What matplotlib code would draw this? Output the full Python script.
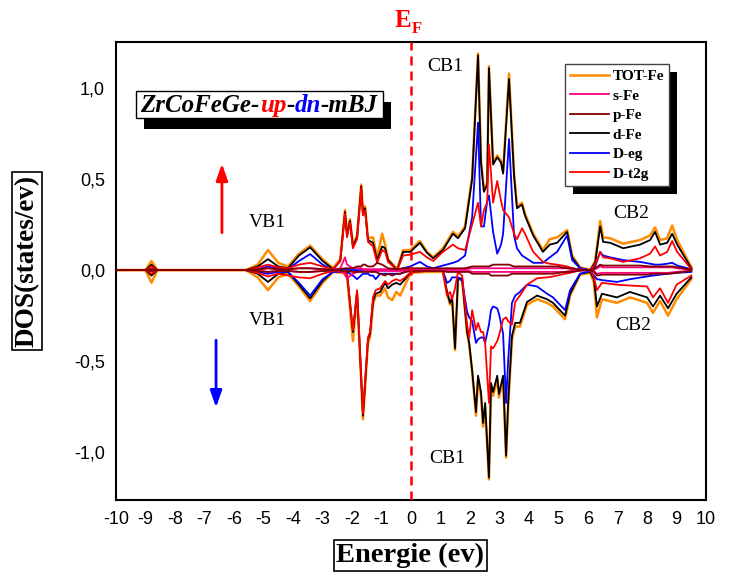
import matplotlib
matplotlib.use('Agg')
import matplotlib.pyplot as plt
from matplotlib.patches import Rectangle
from matplotlib.transforms import Bbox
from matplotlib.ticker import FuncFormatter

plt.rcParams['axes.unicode_minus'] = False

# ---------------- DATA ---------------- #
# spin up
e_up = [-10.0, -9.0, -8.8, -8.6, -5.6, -5.2, -4.85, -4.5, -4.17, -3.8, -3.42, -3.0,
        -2.64, -2.4, -2.24, -2.17, -2.07, -1.97, -1.83, -1.69, -1.63, -1.56, -1.46,
        -1.29, -1.15, -0.98, -0.88, -0.78, -0.47, -0.27, -0.03, 0.3, 0.54, 0.75,
        1.08, 1.42, 1.59, 1.83, 2.07, 2.27, 2.37, 2.47, 2.58, 2.64, 2.78, 2.92,
        3.05, 3.12, 3.32, 3.49, 3.59, 3.76, 3.86, 4.14, 4.47, 4.7, 4.95, 5.29,
        5.46, 5.73, 6.07, 6.24, 6.41, 6.51, 6.75, 7.19, 7.76, 8.1, 8.27, 8.44,
        8.68, 8.85, 9.02, 9.5]
tot_up = [0, 0, 0.05, 0, 0, 0.03, 0.11, 0.04, 0.02, 0.09, 0.135, 0.06,
          0.01, 0.06, 0.33, 0.2, 0.28, 0.14, 0.19, 0.47, 0.32, 0.35, 0.175,
          0.18, 0.07, 0.2, 0.14, 0.06, 0.005, 0.11, 0.11, 0.16, 0.1, 0.07,
          0.12, 0.21, 0.185, 0.24, 0.51, 1.19, 0.6, 0.44, 0.48, 1.12, 0.59, 0.63,
          0.6, 0.54, 1.08, 0.53, 0.35, 0.37, 0.31, 0.2, 0.11, 0.17, 0.18, 0.22,
          0.08, 0.015, 0.0, 0.05, 0.27, 0.18, 0.175, 0.145, 0.165, 0.19, 0.235, 0.165,
          0.175, 0.245, 0.165, 0.015]
s_up = [0, 0, 0.003, 0, 0, 0.003, 0.01, 0.005, 0.004, 0.01, 0.01, 0.005,
        0.002, 0.01, 0.07, 0.03, 0.02, 0.01, 0.01, 0.01, 0.005, 0.005, 0.005,
        0.005, 0.005, 0.005, 0.005, 0.003, 0.002, 0.005, 0.005, 0.005, 0.005, 0.005,
        0.005, 0.005, 0.005, 0.005, 0.01, 0.01, 0.01, 0.01, 0.01, 0.01, 0.01, 0.01,
        0.01, 0.01, 0.01, 0.01, 0.01, 0.01, 0.01, 0.01, 0.01, 0.01, 0.01, 0.01,
        0.005, 0.003, 0.0, 0.005, 0.02, 0.015, 0.015, 0.015, 0.015, 0.015, 0.015, 0.015,
        0.015, 0.015, 0.01, 0.002]
p_up = [0, 0, 0.005, 0, 0, 0.005, 0.01, 0.005, 0.005, 0.01, 0.01, 0.005,
        0.002, 0.005, 0.01, 0.01, 0.01, 0.01, 0.02, 0.02, 0.03, 0.03, 0.02,
        0.02, 0.04, 0.03, 0.02, 0.01, 0.005, 0.01, 0.01, 0.01, 0.01, 0.01,
        0.01, 0.01, 0.01, 0.01, 0.02, 0.02, 0.02, 0.02, 0.02, 0.02, 0.03, 0.03,
        0.03, 0.03, 0.03, 0.02, 0.02, 0.02, 0.02, 0.02, 0.02, 0.02, 0.02, 0.01,
        0.01, 0.003, 0.0, 0.01, 0.03, 0.025, 0.025, 0.025, 0.025, 0.02, 0.02, 0.02,
        0.02, 0.02, 0.015, 0.003]
d_up = [0, 0, 0.03, 0, 0, 0.02, 0.06, 0.02, 0.01, 0.08, 0.125, 0.05,
        0.005, 0.05, 0.32, 0.19, 0.27, 0.13, 0.18, 0.46, 0.31, 0.34, 0.165,
        0.15, 0.055, 0.13, 0.12, 0.055, 0.0, 0.1, 0.1, 0.15, 0.095, 0.065,
        0.11, 0.2, 0.175, 0.23, 0.5, 1.18, 0.59, 0.43, 0.47, 1.11, 0.58, 0.62,
        0.59, 0.53, 1.05, 0.52, 0.34, 0.36, 0.3, 0.19, 0.1, 0.14, 0.15, 0.21,
        0.07, 0.01, 0.0, 0.04, 0.24, 0.155, 0.15, 0.12, 0.14, 0.165, 0.21, 0.14,
        0.15, 0.2, 0.14, 0.01]
eg_up = [0, 0, 0.005, 0, 0, 0.005, 0.02, 0.01, 0.005, 0.05, 0.088, 0.03,
         0.0, 0.0, 0.005, 0.005, 0.0, 0.0, 0.0, 0.0, 0.0, 0.0, 0.0,
         0.0, 0.0, 0.0, 0.0, 0.0, 0.0, 0.01, 0.02, 0.045, 0.02, 0.01,
         0.025, 0.04, 0.05, 0.08, 0.29, 0.81, 0.24, 0.24, 0.38, 0.41, 0.21, 0.09,
         0.14, 0.2, 0.72, 0.19, 0.12, 0.08, 0.07, 0.04, 0.04, 0.07, 0.1, 0.19,
         0.055, 0.01, 0.0, 0.02, 0.1, 0.08, 0.07, 0.055, 0.045, 0.035, 0.03, 0.03,
         0.035, 0.04, 0.025, 0.005]
t2g_up = [0, 0, 0.02, 0, 0, 0.015, 0.03, 0.015, 0.01, 0.03, 0.04, 0.02,
          0.005, 0.05, 0.31, 0.18, 0.26, 0.12, 0.17, 0.45, 0.3, 0.33, 0.155,
          0.13, 0.04, 0.11, 0.1, 0.045, 0.0, 0.08, 0.085, 0.1, 0.07, 0.05,
          0.1, 0.14, 0.12, 0.11, 0.25, 0.37, 0.24, 0.33, 0.37, 0.69, 0.37, 0.49,
          0.38, 0.33, 0.29, 0.2, 0.17, 0.23, 0.2, 0.1, 0.045, 0.035, 0.03, 0.02,
          0.01, 0.002, 0.0, 0.03, 0.1, 0.07, 0.065, 0.045, 0.065, 0.09, 0.13, 0.08,
          0.1, 0.16, 0.1, 0.005]

# spin down
e_dn = [-10.0, -9.0, -8.8, -8.6, -5.6, -5.2, -4.85, -4.5, -4.17, -3.8, -3.42, -3.0,
        -2.64, -2.3, -2.17, -1.97, -1.83, -1.63, -1.46, -1.39, -1.29, -1.2, -1.05,
        -0.88, -0.78, -0.64, -0.5, -0.37, -0.2, 0.0, 0.5, 1.08, 1.22, 1.32, 1.39,
        1.49, 1.59, 1.73, 1.9, 1.97, 2.07, 2.2, 2.27, 2.37, 2.44, 2.51, 2.64,
        2.71, 2.78, 2.92, 2.98, 3.12, 3.22, 3.29, 3.42, 3.53, 3.69, 3.93, 4.27,
        4.61, 4.81, 5.22, 5.39, 5.73, 6.07, 6.2, 6.3, 6.47, 6.98, 7.42, 8.0,
        8.2, 8.44, 8.71, 9.0, 9.5]
tot_dn = [0, 0, -0.07, 0, 0, -0.04, -0.11, -0.04, -0.02, -0.09, -0.17, -0.07,
          -0.01, -0.015, -0.03, -0.39, -0.13, -0.82, -0.4, -0.37, -0.19, -0.14, -0.14,
          -0.1, -0.15, -0.165, -0.12, -0.14, -0.08, -0.015, -0.01, -0.01, -0.13, -0.19, -0.16,
          -0.44, -0.05, -0.05, -0.35, -0.41, -0.56, -0.8, -0.6, -0.69, -0.86, -0.75, -1.15,
          -0.64, -0.69, -0.6, -0.7, -0.6, -1.03, -0.75, -0.38, -0.31, -0.31, -0.19, -0.16,
          -0.18, -0.2, -0.27, -0.14, -0.025, -0.015, -0.07, -0.26, -0.16, -0.18, -0.15, -0.18,
          -0.235, -0.17, -0.25, -0.16, -0.05]
s_dn = [0, 0, -0.003, 0, 0, -0.003, -0.01, -0.005, -0.004, -0.01, -0.01, -0.005,
        -0.002, -0.01, -0.045, -0.02, -0.01, -0.005, -0.005, -0.005, -0.005, -0.005, -0.005,
        -0.005, -0.005, -0.005, -0.005, -0.005, -0.003, -0.002, -0.002, -0.002, -0.005, -0.005, -0.005,
        -0.005, -0.005, -0.005, -0.005, -0.005, -0.01, -0.01, -0.01, -0.01, -0.01, -0.01, -0.01,
        -0.01, -0.01, -0.01, -0.01, -0.01, -0.01, -0.01, -0.01, -0.01, -0.01, -0.01, -0.01,
        -0.01, -0.01, -0.01, -0.005, -0.003, 0.0, -0.005, -0.02, -0.015, -0.015, -0.015, -0.015,
        -0.015, -0.015, -0.015, -0.01, -0.003]
p_dn = [0, 0, -0.005, 0, 0, -0.005, -0.01, -0.005, -0.005, -0.01, -0.01, -0.005,
        -0.002, -0.005, -0.005, -0.01, -0.01, -0.01, -0.01, -0.01, -0.01, -0.01, -0.02,
        -0.03, -0.02, -0.03, -0.02, -0.02, -0.01, -0.005, -0.005, -0.005, -0.01, -0.01, -0.01,
        -0.01, -0.01, -0.01, -0.01, -0.01, -0.02, -0.02, -0.02, -0.02, -0.02, -0.02, -0.02,
        -0.03, -0.03, -0.03, -0.03, -0.03, -0.03, -0.03, -0.02, -0.02, -0.02, -0.02, -0.02,
        -0.02, -0.02, -0.01, -0.01, -0.003, 0.0, -0.01, -0.03, -0.025, -0.025, -0.025, -0.025,
        -0.02, -0.02, -0.02, -0.015, -0.004]
d_dn = [0, 0, -0.03, 0, 0, -0.02, -0.065, -0.02, -0.01, -0.08, -0.155, -0.06,
        -0.005, -0.01, -0.02, -0.34, -0.12, -0.8, -0.38, -0.35, -0.17, -0.13, -0.12,
        -0.07, -0.1, -0.08, -0.07, -0.08, -0.05, -0.01, -0.005, -0.005, -0.12, -0.18, -0.15,
        -0.43, -0.045, -0.045, -0.34, -0.4, -0.55, -0.78, -0.58, -0.67, -0.84, -0.73, -1.14,
        -0.62, -0.67, -0.58, -0.68, -0.58, -1.02, -0.73, -0.36, -0.29, -0.29, -0.175, -0.14,
        -0.16, -0.18, -0.25, -0.13, -0.02, -0.01, -0.05, -0.2, -0.13, -0.15, -0.12, -0.15,
        -0.2, -0.14, -0.21, -0.13, -0.04]
eg_dn = [0, 0, -0.005, 0, 0, -0.01, -0.02, -0.01, -0.01, -0.07, -0.14, -0.05,
         -0.01, -0.01, -0.01, -0.03, -0.05, -0.02, -0.02, -0.03, -0.03, -0.05, -0.02,
         -0.02, -0.02, -0.02, -0.02, -0.02, -0.01, 0.0, 0.0, -0.005, -0.07, -0.06, -0.04,
         -0.04, -0.04, -0.06, -0.23, -0.26, -0.28, -0.4, -0.38, -0.37, -0.37, -0.4, -0.3,
         -0.22, -0.2, -0.21, -0.24, -0.35, -0.73, -0.5, -0.18, -0.14, -0.12, -0.08, -0.09,
         -0.13, -0.15, -0.22, -0.11, -0.02, -0.005, -0.03, -0.05, -0.055, -0.065, -0.05, -0.035,
         -0.03, -0.025, -0.02, -0.015, -0.01]
t2g_dn = [0, 0, -0.02, 0, 0, -0.015, -0.035, -0.02, -0.03, -0.04, -0.045, -0.02,
          -0.005, -0.01, -0.02, -0.33, -0.11, -0.79, -0.37, -0.34, -0.15, -0.11, -0.1,
          -0.06, -0.08, -0.06, -0.05, -0.06, -0.04, -0.01, -0.005, -0.005, -0.14, -0.12, -0.16,
          -0.1, -0.01, -0.03, -0.3, -0.37, -0.22, -0.33, -0.29, -0.34, -0.34, -0.4, -0.73,
          -0.42, -0.43, -0.39, -0.36, -0.27, -0.26, -0.28, -0.3, -0.175, -0.14, -0.08, -0.045,
          -0.04, -0.035, -0.02, -0.015, 0.0, 0.0, -0.04, -0.11, -0.07, -0.08, -0.085, -0.09,
          -0.15, -0.1, -0.18, -0.08, -0.03]

labels = ['TOT-Fe', 's-Fe', 'p-Fe', 'd-Fe', 'D-eg', 'D-t2g']
colors = ['#ff8c00', '#ff0080', '#800000', '#000000', '#0000ff', '#ff0000']

# ---------------- FIGURE ---------------- #
fig = plt.figure(figsize=(7.33, 5.76), dpi=100)
ax = fig.add_axes([0.1583, 0.132, 0.805, 0.795])

up = [tot_up, s_up, p_up, d_up, eg_up, t2g_up]
dn = [tot_dn, s_dn, p_dn, d_dn, eg_dn, t2g_dn]
order = [0, 3, 4, 5, 1, 2]  # orange under black, pink/maroon on top
handles = {}
for k, i in enumerate(order):
    lw = 1.8 if i == 0 else 1.3
    h, = ax.plot(e_up, up[i], color=colors[i], lw=lw, label=labels[i], zorder=2 + k)
    ax.plot(e_dn, dn[i], color=colors[i], lw=lw, zorder=2 + k)
    handles[i] = h

# Fermi level
ax.axvline(0, color='#ff0000', lw=1.8, ls=(0, (3.6, 2.4)), zorder=10)

ax.set_xlim(-10, 10)
ax.set_ylim(-1.263, 1.253)
ax.set_xticks(range(-10, 11))
ax.set_yticks([-1.0, -0.5, 0.0, 0.5, 1.0])
ax.yaxis.set_major_formatter(FuncFormatter(lambda v, p: f'{v:.1f}'.replace('.', ',')))
ax.tick_params(length=0, labelsize=13, pad=8)
for lab in ax.get_xticklabels() + ax.get_yticklabels():
    lab.set_family('Liberation Sans')
for sp in ax.spines.values():
    sp.set_linewidth(1.5)

# legend
leg = ax.legend([handles[i] for i in range(6)], labels, loc='upper left',
                bbox_to_anchor=(0.761, 0.952), borderaxespad=0, fancybox=False,
                prop={'family': 'Liberation Serif', 'weight': 'bold', 'size': 11},
                handlelength=2.5, handletextpad=0.25, labelspacing=0.38,
                borderpad=0.35, framealpha=1, edgecolor='#444444')
leg.get_frame().set_linewidth(1.0)
leg.set_zorder(20)

# title (multi-coloured)
tfont = dict(family='Liberation Serif', weight='bold', style='italic', size=18, zorder=16)
t1 = ax.text(0.041, 0.836, 'ZrCoFeGe-', transform=ax.transAxes, va='bottom', color='black', **tfont)
t2 = ax.annotate('up', xy=(1, 0), xycoords=t1, va='bottom', color='#ff0000', **tfont)
t3 = ax.annotate('-', xy=(1, 0), xycoords=t2, va='bottom', color='black', **tfont)
t4 = ax.annotate('dn', xy=(1, 0), xycoords=t3, va='bottom', color='#0000ff', **tfont)
t5 = ax.annotate('-mBJ', xy=(1, 0), xycoords=t4, va='bottom', color='black', **tfont)

# band labels
bfont = dict(family='Liberation Serif', size=14, ha='center', va='center')
ax.text(1.15, 1.119, 'CB1', **bfont)
ax.text(1.22, -1.033, 'CB1', **bfont)
ax.text(7.47, 0.313, 'CB2', **bfont)
ax.text(7.54, -0.302, 'CB2', **bfont)
ax.text(-4.87, 0.264, 'VB1', **bfont)
ax.text(-4.87, -0.275, 'VB1', **bfont)

# spin arrows
ax.annotate('', xy=(-6.41, 0.6), xytext=(-6.41, 0.19),
            arrowprops=dict(arrowstyle='-|>,head_width=0.35,head_length=1.0', color='#ff0000', lw=2))
ax.annotate('', xy=(-6.61, -0.77), xytext=(-6.61, -0.37),
            arrowprops=dict(arrowstyle='-|>,head_width=0.35,head_length=1.0', color='#0000ff', lw=2))

# axis labels in boxes
fig.text(0.037, 0.547, 'DOS(states/ev)', rotation=90, ha='center', va='center',
         family='Liberation Serif', weight='bold', size=19.5,
         bbox=dict(boxstyle='square,pad=0.1', fc='white', ec='black', lw=1.2))
fig.text(0.56, 0.035, 'Energie (ev)', ha='center', va='center',
         family='Liberation Serif', weight='bold', size=20.5,
         bbox=dict(boxstyle='square,pad=0.1', fc='white', ec='black', lw=1.2))

# E_F label
fig.text(0.539, 0.953, 'E', color='#ff0000', family='Liberation Serif', weight='bold', size=18)
fig.text(0.562, 0.943, 'F', color='#ff0000', family='Liberation Serif', weight='bold', size=12)

# boxes with black drop shadows (need the text/legend extents)
fig.canvas.draw()
inv = ax.transAxes.inverted()
tb = Bbox.union([t.get_window_extent() for t in (t1, t2, t3, t4, t5)])
tb = inv.transform_bbox(Bbox.from_extents(tb.x0 - 4, tb.y0 - 1, tb.x1 + 5, tb.y1 + 3))
sx, sy = 8 / 590, 11 / 458
ax.add_patch(Rectangle((tb.x0 + sx, tb.y0 - sy), tb.width, tb.height, transform=ax.transAxes,
                       fc='black', ec='none', zorder=14))
ax.add_patch(Rectangle((tb.x0, tb.y0), tb.width, tb.height, transform=ax.transAxes,
                       fc='white', ec='black', lw=1.0, zorder=15))

lb = inv.transform_bbox(leg.get_window_extent())
ax.add_patch(Rectangle((lb.x0 + 8 / 590, lb.y0 - 8 / 458), lb.width, lb.height,
                       transform=ax.transAxes, fc='black', ec='none', zorder=19))

fig.savefig('out.png', dpi=100)
